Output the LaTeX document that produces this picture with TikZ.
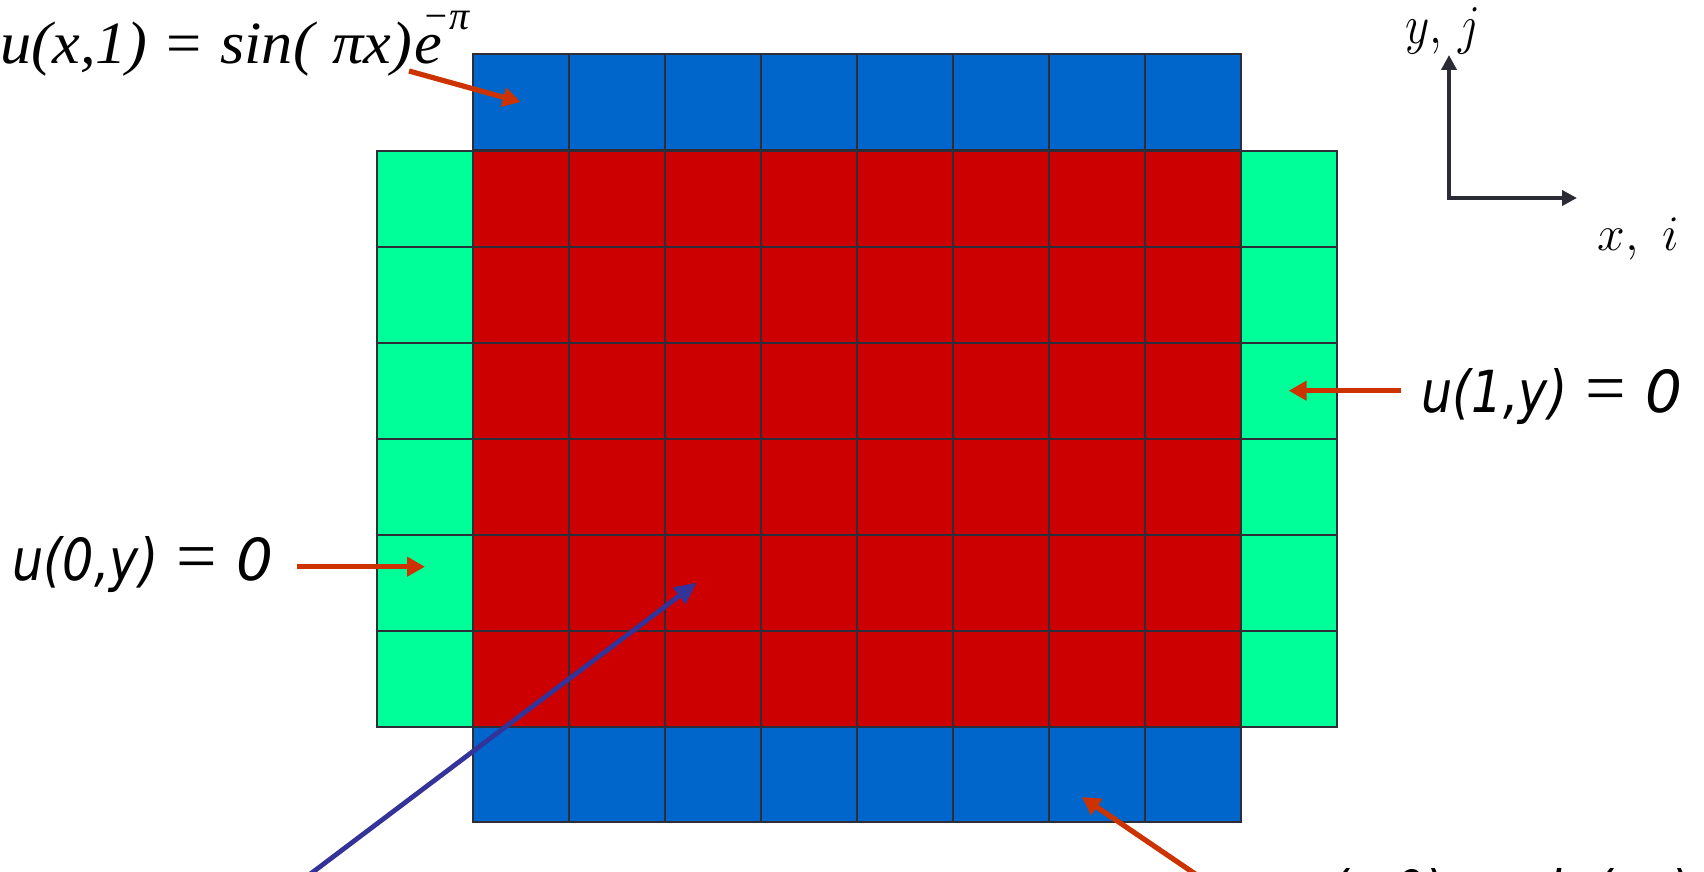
\documentclass[tikz,border=0pt]{standalone}
\usepackage{fontspec}
\usetikzlibrary{arrows.meta}
\newfontfamily\lbl{DejaVu Sans}[FakeStretch=0.85, ItalicFeatures={FakeStretch=0.85}]
\newfontfamily\lblw{DejaVu Sans}
\newfontfamily\tms{Liberation Serif}
\definecolor{cblue}{HTML}{0066CC}
\definecolor{cred}{HTML}{CC0000}
\definecolor{cgreen}{HTML}{00FF99}
\definecolor{carrow}{HTML}{CC3300}
\definecolor{cnavy}{HTML}{333399}
\definecolor{cgrid}{HTML}{2E2E38}
\definecolor{caxis}{HTML}{2B2B36}
\newcommand{\thineq}{{\tms\upshape\fontsize{36}{36}\selectfont =}}
\newcommand{\wzero}{{\lblw\itshape 0}}
\begin{document}
\begin{tikzpicture}[x=0.5pt,y=-0.5pt,
  cell/.style={draw=cgrid, line width=1pt, minimum width=48pt, minimum height=48pt, inner sep=0pt, outer sep=0pt},
  redarrow/.style={draw=carrow, line width=2.6pt, -{Triangle[length=9pt,width=9.5pt]}},
  bluearrow/.style={draw=cnavy, line width=2.4pt, -{Triangle[length=11pt,width=10pt]}},
  axisline/.style={draw=caxis, line width=2.2pt, {Triangle[length=7.5pt,width=7.5pt]}-{Triangle[length=7.5pt,width=7.5pt]}},
  sanslbl/.style={anchor=base west, inner sep=0pt, font=\lbl\itshape\fontsize{29}{29}\selectfont},
  seriflbl/.style={anchor=base west, inner sep=0pt, font=\tms\itshape\fontsize{30}{30}\selectfont},
  axislbl/.style={anchor=base west, inner sep=0pt, font=\fontsize{26}{26}\selectfont}
]
\useasboundingbox (0,0) rectangle (1704,872);

% grid
\foreach \i in {0,...,7} {
  \node[cell, fill=cblue] (top-\i) at ({520.7+96*\i},102) {};
  \node[cell, fill=cblue] (bot-\i) at ({520.7+96*\i},774) {};
  \foreach \j in {0,...,5} {
    \node[cell, fill=cred] (in-\i-\j) at ({520.7+96*\i},{198.7+96*\j}) {};
  }
}
\foreach \j in {0,...,5} {
  \node[cell, fill=cgreen] (left-\j) at (424.7,{198.7+96*\j}) {};
  \node[cell, fill=cgreen] (right-\j) at (1288.7,{198.7+96*\j}) {};
}

% labels
\node[seriflbl] (ltop) at (0,64) {\scalebox{1.04}[1]{u(x,1)\hspace{9pt}{\upshape =}\hspace{9pt}sin(\hspace{9pt}πx)\hspace{1pt}e}\kern-10pt\raisebox{17pt}{\fontsize{20}{20}\selectfont −π}};
\node[sanslbl] (lleft) at (12,580) {u(0,y)\hspace{9pt}\thineq\hspace{10pt}\wzero};
\node[sanslbl] (lright) at (1421,412) {u(1,y)\hspace{9pt}\thineq\hspace{10pt}\wzero};
\node[sanslbl] (lbot) at (1298,912) {u(x,0)\hspace{9pt}\thineq\hspace{10pt}sin(πx)};

% arrows
\coordinate (a1) at (409,71);
\draw[redarrow] (a1) -- (top-0.center);
\coordinate (a2) at (1401,390.7);
\draw[redarrow] (a2) -- (right-2.center);
\coordinate (a3) at (296.7,566.7);
\coordinate (a3t) at (425,566.7);
\draw[redarrow] (a3) -- (a3t);
\coordinate (a4) at (1207,882);
\coordinate (a4t) at (1082,797);
\draw[redarrow] (a4) -- (a4t);
\coordinate (b1) at (299.7,882);
\coordinate (b1t) at (696.7,582.7);
\draw[bluearrow] (b1) -- (b1t);

% axes
\coordinate (o) at (1449,198);
\coordinate (ytip) at (1449,55);
\coordinate (xtip) at (1577,198);
\draw[axisline] (ytip) -- (o) -- (xtip);
\node[axislbl, font=\fontsize{34}{34}\selectfont] (ly) at (1405,44) {\scalebox{0.95}[1.1]{$y,\,j$}};
\node[axislbl] (lx) at (1597,250) {$x,\ i$};
\end{tikzpicture}
\end{document}
